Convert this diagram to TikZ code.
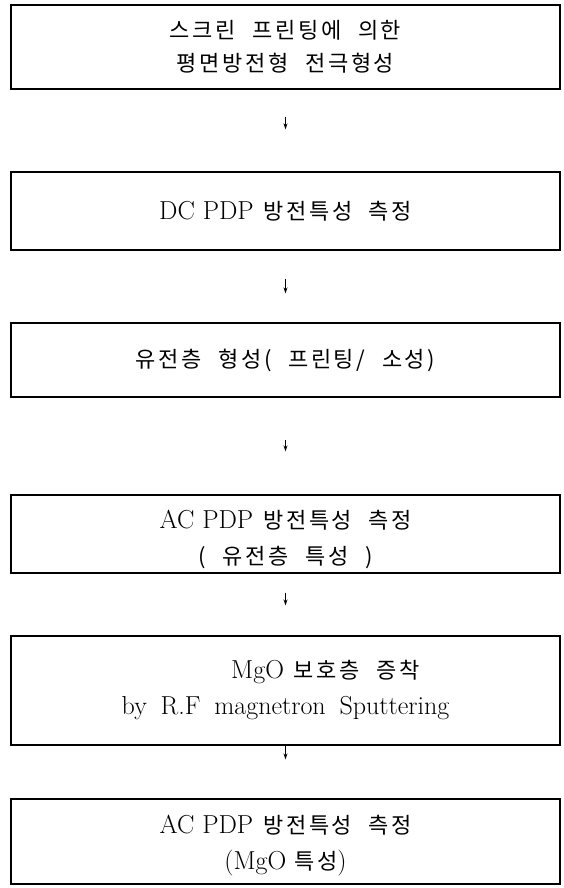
\documentclass[tikz,border=0pt]{standalone}
\usepackage{fontspec}
\newfontfamily\kr{Noto Sans CJK KR}[LetterSpace=12, WordSpace=2.2]
\usetikzlibrary{arrows.meta}
\newcommand{\ko}[1]{{\kr\fontsize{22}{36}\selectfont #1}}
\newcommand{\topgap}[1]{\rule{0pt}{#1}}

\begin{document}
\begin{tikzpicture}[
  x=1pt, y=-1pt,
  stage/.style={draw, line width=1.4pt, minimum width=549pt, align=center,
    inner sep=0pt, font=\fontsize{26}{36}\selectfont},
  flow/.style={-{Stealth[length=6pt,width=4pt]}, line width=0.9pt},
]
\useasboundingbox (0,0) rectangle (563,888);

% Process stages
\node[stage, minimum height=84pt] (print) at (285.5,47)
  {\ko{스크린 프린팅에 의한}\\[-3pt] \ko{평면방전형 전극형성}};
\node[stage, minimum height=78pt] (dcmeas) at (285.5,211)
  {DC PDP\hspace{10pt}\ko{방전특성\hspace{16pt}측정}};
\node[stage, minimum height=74pt] (dielec) at (285.5,360)
  {\ko{유전층 형성( 프린팅/ 소성)}};
\node[stage, minimum height=78pt] (acdiel) at (285.5,534)
  {\topgap{30pt}AC PDP\hspace{10pt}\ko{방전특성\hspace{16pt}측정}\\ \ko{( 유전층 특성 )}};
\node[stage, minimum height=109pt] (mgo) at (285.5,690.5)
  {\hspace*{80pt}MgO\hspace{10pt}\ko{보호층 증착}\\ by\hspace{6pt} R.F\hspace{6pt} magnetron\hspace{6pt} Sputtering};
\node[stage, minimum height=85pt] (acmgo) at (285.5,841.5)
  {\topgap{26pt}AC PDP\hspace{10pt}\ko{방전특성\hspace{16pt}측정}\\ (MgO\hspace{8pt}\ko{특성})};

% Arrows between stages
\draw[flow, shorten <=27pt, shorten >=42pt] (print) -- (dcmeas);
\draw[flow, shorten <=28pt, shorten >=29pt] (dcmeas) -- (dielec);
\draw[flow, shorten <=42pt, shorten >=43pt] (dielec) -- (acdiel);
\draw[flow, shorten <=19pt, shorten >=30pt] (acdiel) -- (mgo);
\draw[flow, shorten <=0pt, shorten >=39pt] (mgo) -- (acmgo);

\end{tikzpicture}
\end{document}
